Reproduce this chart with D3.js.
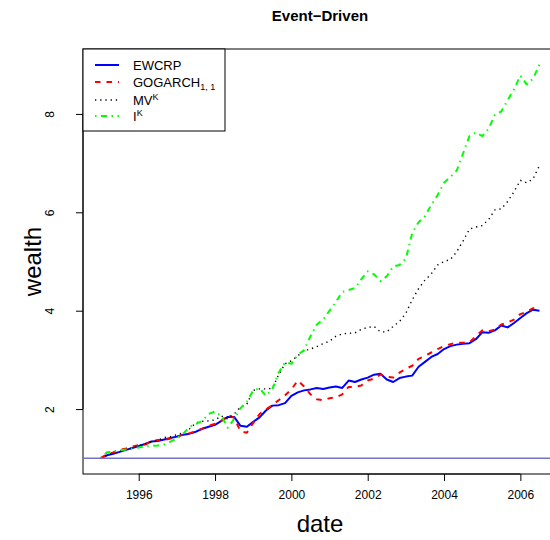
<!DOCTYPE html>
<html>
<head>
<meta charset="utf-8">
<script src="https://cdn.jsdelivr.net/npm/d3@7"></script>
<style>
body { margin: 0; background: #fff; }
text { font-family: "Liberation Sans", Arial, Helvetica, sans-serif; fill: #000; }
</style>
</head>
<body>
<div id="chart"></div>
<script>
var months = [
  "1995-01","1995-03","1995-05","1995-07","1995-09","1995-11",
  "1996-01","1996-03","1996-05","1996-07","1996-09","1996-11",
  "1997-01","1997-03","1997-05","1997-07","1997-09","1997-11",
  "1998-01","1998-03","1998-05","1998-07","1998-09","1998-11",
  "1999-01","1999-03","1999-05","1999-07","1999-09","1999-11",
  "2000-01","2000-03","2000-05","2000-07","2000-09","2000-11",
  "2001-01","2001-03","2001-05","2001-07","2001-09","2001-11",
  "2002-01","2002-03","2002-05","2002-07","2002-09","2002-11",
  "2003-01","2003-03","2003-05","2003-07","2003-09","2003-11",
  "2004-01","2004-03","2004-05","2004-07","2004-09","2004-11",
  "2005-01","2005-03","2005-05","2005-07","2005-09","2005-11",
  "2006-01","2006-03","2006-05","2006-07"
];

var ewcrp = [1.00,1.06,1.09,1.13,1.17,1.21, 1.25,1.29,1.34,1.35,1.38,1.41,
  1.44,1.48,1.50,1.54,1.60,1.64, 1.68,1.76,1.84,1.84,1.66,1.64,
  1.74,1.83,1.97,2.07,2.08,2.12, 2.27,2.34,2.38,2.40,2.43,2.41,
  2.44,2.46,2.43,2.58,2.55,2.60, 2.64,2.70,2.72,2.60,2.55,2.63,
  2.66,2.68,2.86,2.96,3.06,3.12, 3.22,3.28,3.31,3.33,3.34,3.42,
  3.56,3.55,3.60,3.70,3.66,3.75, 3.85,3.95,4.02,4.00];

var gogarch = [1.00,1.08,1.12,1.17,1.20,1.24, 1.27,1.28,1.34,1.37,1.37,1.40,
  1.44,1.48,1.51,1.55,1.60,1.66, 1.70,1.76,1.88,1.82,1.55,1.52,
  1.72,1.90,1.99,2.08,2.18,2.28, 2.40,2.58,2.46,2.30,2.20,2.18,
  2.22,2.24,2.30,2.45,2.45,2.48, 2.58,2.62,2.70,2.66,2.64,2.74,
  2.82,2.88,3.02,3.08,3.15,3.22, 3.28,3.32,3.35,3.35,3.36,3.48,
  3.60,3.58,3.62,3.72,3.76,3.82, 3.93,3.98,4.05,4.05];

var mvK = [1.00,1.06,1.10,1.14,1.18,1.21, 1.25,1.29,1.33,1.37,1.42,1.44,
  1.48,1.52,1.60,1.72,1.75,1.76, 1.78,1.86,1.80,1.90,2.04,2.10,
  2.38,2.41,2.41,2.42,2.70,2.92, 2.98,3.08,3.19,3.22,3.27,3.33,
  3.38,3.48,3.53,3.54,3.55,3.62, 3.66,3.68,3.57,3.57,3.68,3.78,
  3.95,4.22,4.45,4.62,4.75,4.93, 5.00,5.04,5.20,5.42,5.66,5.70,
  5.73,5.85,6.05,6.07,6.22,6.42, 6.65,6.60,6.68,6.95];

var iK = [1.00,1.12,1.13,1.16,1.18,1.20, 1.22,1.24,1.25,1.26,1.28,1.34,
  1.40,1.50,1.64,1.70,1.76,1.90, 1.95,1.86,1.62,1.80,2.02,2.15,
  2.38,2.42,2.27,2.40,2.74,2.95, 2.92,3.10,3.20,3.48,3.72,3.82,
  4.00,4.18,4.38,4.42,4.46,4.64, 4.80,4.74,4.60,4.70,4.90,4.93,
  5.06,5.58,5.80,5.92,6.15,6.35, 6.60,6.72,6.85,7.20,7.55,7.62,
  7.55,7.70,7.98,8.05,8.28,8.50, 8.78,8.60,8.72,9.00];

var xTicks = [1996, 1998, 2000, 2002, 2004, 2006];
var yTicks = [2, 4, 6, 8];
var baseLevel = 1;

var seriesNames = ["EWCRP", "GOGARCH", "MVK", "IK"];
var seriesColors = ["#0000ff", "#ff0000", "#000000", "#00ff00"];
var seriesDash = [null, "5.5,6", "1.3,3.9", "1.5,4.5,6,4.5"];
var seriesWidth = [2, 2, 1.4, 2];

var width = 550, height = 540;
var plot = { left: 83, right: 557, top: 49, bottom: 474 };

function toYear(s) {
    var p = s.split("-");
    return +p[0] + (+p[1] - 1) / 12;
}
var years = months.map(toYear);

var allSeries = [ewcrp, gogarch, mvK, iK];
var allVals = d3.merge(allSeries);
var yMin = d3.min(allVals), yMax = d3.max(allVals);
var xMin = d3.min(years), xMax = d3.max(years);
var xPad = (xMax - xMin) * 0.04, yPad = (yMax - yMin) * 0.04;

var x = d3.scaleLinear().domain([xMin - xPad, xMax + xPad]).range([plot.left, plot.right]);
var y = d3.scaleLinear().domain([yMin - yPad, yMax + yPad]).range([plot.bottom, plot.top]);

var svg = d3.select("#chart").append("svg")
    .attr("width", width)
    .attr("height", height);

svg.append("defs").append("clipPath").attr("id", "clip")
    .append("rect")
    .attr("x", plot.left).attr("y", plot.top)
    .attr("width", plot.right - plot.left).attr("height", plot.bottom - plot.top);

// title
svg.append("text")
    .attr("x", (plot.left + plot.right) / 2)
    .attr("y", 21)
    .attr("text-anchor", "middle")
    .style("font-size", "15px")
    .style("font-weight", "bold")
    .text("Event\u2212Driven");

// axes
var xAxis = d3.axisBottom(x).tickValues(xTicks).tickSize(7).tickFormat(d3.format("d"));
var gx = svg.append("g")
    .attr("transform", "translate(0," + plot.bottom + ")")
    .call(xAxis);
gx.select(".domain").remove();
gx.append("line")
    .attr("x1", x(xTicks[0])).attr("x2", x(xTicks[xTicks.length - 1]))
    .attr("stroke", "#000");
gx.selectAll(".tick line").attr("stroke", "#000");
gx.selectAll(".tick text")
    .attr("y", 16)
    .attr("dy", "0.71em")
    .style("font-size", "12px")
    .style("font-family", "'Liberation Sans', Arial, sans-serif");

var yAxis = d3.axisLeft(y).tickValues(yTicks).tickSize(7);
var gy = svg.append("g")
    .attr("transform", "translate(" + plot.left + ",0)")
    .call(yAxis);
gy.select(".domain").remove();
gy.append("line")
    .attr("y1", y(yTicks[0])).attr("y2", y(yTicks[yTicks.length - 1]))
    .attr("stroke", "#000");
gy.selectAll(".tick line").attr("stroke", "#000");
gy.selectAll(".tick text")
    .attr("x", 0).attr("dy", 0)
    .attr("transform", "translate(-29,0) rotate(-90)")
    .attr("text-anchor", "middle")
    .style("font-size", "12px")
    .style("font-family", "'Liberation Sans', Arial, sans-serif");

// box
svg.append("rect")
    .attr("x", plot.left).attr("y", plot.top)
    .attr("width", plot.right - plot.left).attr("height", plot.bottom - plot.top)
    .attr("fill", "none").attr("stroke", "#000");

// axis titles
svg.append("text")
    .attr("x", (plot.left + plot.right) / 2)
    .attr("y", 532)
    .attr("text-anchor", "middle")
    .style("font-size", "24px")
    .text("date");

svg.append("text")
    .attr("transform", "translate(41," + (plot.top + plot.bottom) / 2 + ") rotate(-90)")
    .attr("text-anchor", "middle")
    .style("font-size", "24px")
    .text("wealth");

// series
var line = d3.line()
    .x(function (d, i) { return x(years[i]); })
    .y(function (d) { return y(d); });

var g = svg.append("g").attr("clip-path", "url(#clip)");

allSeries.forEach(function (s, k) {
    g.append("path")
        .datum(s)
        .attr("d", line)
        .attr("fill", "none")
        .attr("stroke", seriesColors[k])
        .attr("stroke-width", seriesWidth[k])
        .attr("stroke-dasharray", seriesDash[k])
        .attr("stroke-linejoin", "round");
});

g.append("line")
    .attr("x1", plot.left).attr("x2", plot.right)
    .attr("y1", y(baseLevel)).attr("y2", y(baseLevel))
    .attr("stroke", "#7272c6")
    .attr("stroke-width", 1.5);

// legend
var legend = svg.append("g");
legend.append("rect")
    .attr("x", plot.left).attr("y", plot.top)
    .attr("width", 142).attr("height", 82)
    .attr("fill", "#fff").attr("stroke", "#000");

var rowY = [65, 82, 100, 116];
seriesNames.forEach(function (name, k) {
    legend.append("line")
        .attr("x1", 95).attr("x2", 119)
        .attr("y1", rowY[k]).attr("y2", rowY[k])
        .attr("stroke", seriesColors[k])
        .attr("stroke-width", seriesWidth[k])
        .attr("stroke-dasharray", seriesDash[k]);
    var t = legend.append("text")
        .attr("x", 133).attr("y", rowY[k] + 4.5)
        .style("font-size", "13px");
    if (name == "EWCRP") {
        t.text("EWCRP");
    } else if (name == "GOGARCH") {
        t.append("tspan").text("GOGARCH");
        t.append("tspan").attr("dy", 3).style("font-size", "9px").text("1, 1");
    } else if (name == "MVK") {
        t.append("tspan").text("MV");
        t.append("tspan").attr("dy", -5).style("font-size", "9px").text("K");
    } else {
        t.append("tspan").text("I");
        t.append("tspan").attr("dy", -5).style("font-size", "9px").text("K");
    }
});
</script>
</body>
</html>
